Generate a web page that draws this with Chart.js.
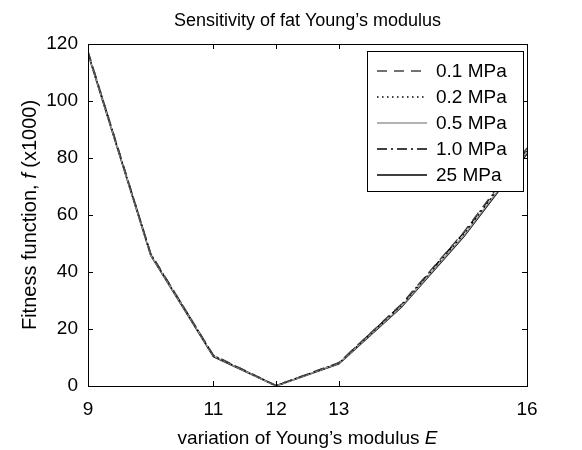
<!DOCTYPE html>
<html>
<head>
<meta charset="utf-8">
<script src="https://cdn.jsdelivr.net/npm/chart.js@4.4.1/dist/chart.umd.min.js"></script>
<style>
  html, body { margin: 0; padding: 0; background: #fff; }
  #wrap { width: 582px; height: 450px; }
</style>
</head>
<body>
<div id="wrap"><canvas id="chart" width="582" height="450"></canvas></div>
<script>
// Chart data
const xValues = [9, 10, 11, 12, 13, 14, 15, 16];
const xTicks = [9, 11, 12, 13, 16];
const yTicks = [0, 20, 40, 60, 80, 100, 120];
const seriesLabels = ["0.1 MPa", "0.2 MPa", "0.5 MPa", "1.0 MPa", "25 MPa"];
const fat01 = [117.5, 46.5, 10.8, 0.2, 8.2, 28.8, 54.2, 83.5];
const fat02 = [117.0, 46.2, 10.6, 0.1, 8.0, 28.3, 53.5, 82.5];
const fat05 = [116.8, 46.0, 10.5, 0.0, 7.9, 28.0, 53.0, 82.0];
const fat10 = [117.2, 46.4, 10.7, 0.1, 8.1, 28.6, 54.0, 83.0];
const fat25 = [116.5, 45.8, 10.3, 0.0, 7.8, 27.7, 52.6, 81.5];

const FONT = "'Liberation Sans', Arial, Helvetica, sans-serif";
const FS = 19;

const styles = [
  { color: "#444", dash: [10, 7] },
  { color: "#000", dash: [1.5, 3.5] },
  { color: "#999", dash: [] },
  { color: "#000", dash: [10, 4, 2, 4] },
  { color: "#000", dash: [] }
];

const allSeries = [fat01, fat02, fat05, fat10, fat25];
const datasets = allSeries.map((vals, i) => ({
  label: seriesLabels[i],
  data: vals.map((v, j) => ({ x: xValues[j], y: v })),
  borderColor: styles[i].color,
  borderDash: styles[i].dash,
  borderWidth: 1.4,
  pointRadius: 0,
  fill: false,
  tension: 0
}));

// frame, inward ticks, titles with italic parts, legend box
const decorations = {
  id: "decorations",
  afterDatasetsDraw(chart) {
    const { ctx, chartArea: a, scales } = chart;
    const x = scales.x, y = scales.y;
    ctx.save();
    ctx.strokeStyle = "#000";
    ctx.lineWidth = 1;
    ctx.setLineDash([]);
    ctx.strokeRect(Math.round(a.left) + 0.5, Math.round(a.top) + 0.5,
      Math.round(a.width), Math.round(a.height));

    // inward ticks
    ctx.beginPath();
    xTicks.forEach((t) => {
      const px = Math.round(x.getPixelForValue(t)) + 0.5;
      ctx.moveTo(px, a.bottom); ctx.lineTo(px, a.bottom - 5);
      ctx.moveTo(px, a.top); ctx.lineTo(px, a.top + 5);
    });
    yTicks.forEach((t) => {
      const py = Math.round(y.getPixelForValue(t)) + 0.5;
      ctx.moveTo(a.left, py); ctx.lineTo(a.left + 5, py);
      ctx.moveTo(a.right, py); ctx.lineTo(a.right - 5, py);
    });
    ctx.stroke();

    // legend
    const lx = 367, ly = 51, lw = 156, lh = 140;
    ctx.fillStyle = "#fff";
    ctx.fillRect(lx, ly, lw, lh);
    ctx.strokeRect(lx + 0.5, ly + 0.5, lw, lh);
    ctx.font = FS + "px " + FONT;
    ctx.textBaseline = "middle";
    ctx.textAlign = "left";
    chart.data.datasets.forEach((ds, i) => {
      const ry = ly + 20 + i * 26;
      ctx.beginPath();
      ctx.strokeStyle = ds.borderColor;
      ctx.lineWidth = 1.4;
      ctx.setLineDash(ds.borderDash);
      ctx.moveTo(lx + 10, ry); ctx.lineTo(lx + 60, ry);
      ctx.stroke();
      ctx.fillStyle = "#000";
      ctx.fillText(ds.label, lx + 69, ry + 1);
    });
    ctx.setLineDash([]);

    // chart title and axis titles
    ctx.fillStyle = "#000";
    ctx.textBaseline = "middle";
    const cx = (a.left + a.right) / 2;
    drawParts(ctx, [["Sensitivity of fat Young\u2019s modulus", "normal"]], cx, 21, 18);
    const xParts = [["variation of Young\u2019s modulus ", "normal"], ["E", "italic"]];
    drawParts(ctx, xParts, cx, 439, FS);
    ctx.save();
    ctx.translate(30, (a.top + a.bottom) / 2);
    ctx.rotate(-Math.PI / 2);
    const yParts = [["Fitness function, ", "normal"], ["f", "italic"], [" (x1000)", "normal"]];
    drawParts(ctx, yParts, 0, 0, 20);
    ctx.restore();
    ctx.restore();
  }
};

function drawParts(ctx, parts, cx, cy, size) {
  let total = 0;
  parts.forEach(([t, s]) => {
    ctx.font = s + " " + size + "px " + FONT;
    total += ctx.measureText(t).width;
  });
  let px = cx - total / 2;
  ctx.textAlign = "left";
  parts.forEach(([t, s]) => {
    ctx.font = s + " " + size + "px " + FONT;
    ctx.fillText(t, px, cy);
    px += ctx.measureText(t).width;
  });
}

new Chart(document.getElementById("chart"), {
  type: "line",
  data: { datasets },
  options: {
    responsive: false,
    animation: false,
    layout: { padding: { left: 0, right: 55, top: 44, bottom: 0 } },
    plugins: {
      legend: { display: false },
      tooltip: { enabled: false },
      title: { display: false }
    },
    scales: {
      x: {
        type: "linear",
        min: 9,
        max: 16,
        afterBuildTicks: (scale) => { scale.ticks = xTicks.map((v) => ({ value: v })); },
        afterFit: (scale) => { scale.height = 64; },
        grid: { display: false, drawTicks: false },
        border: { display: false },
        ticks: { color: "#000", padding: 12, font: { family: FONT, size: FS }, maxRotation: 0, autoSkip: false }
      },
      y: {
        min: 0,
        max: 120,
        afterBuildTicks: (scale) => { scale.ticks = yTicks.map((v) => ({ value: v })); },
        afterFit: (scale) => { scale.width = 88; },
        grid: { display: false, drawTicks: false },
        border: { display: false },
        ticks: { color: "#000", padding: 10, font: { family: FONT, size: FS } }
      }
    }
  },
  plugins: [decorations]
});
</script>
</body>
</html>
